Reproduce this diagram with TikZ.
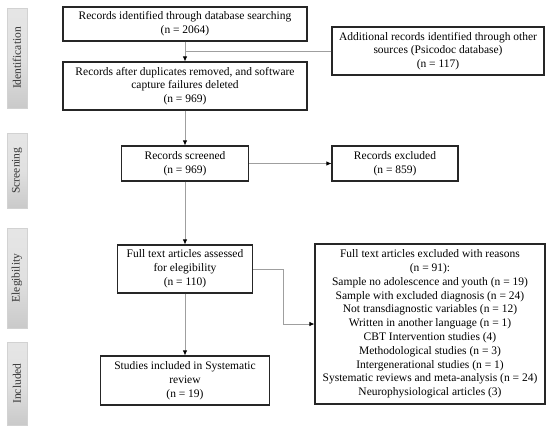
\documentclass[tikz,border=0pt]{standalone}
\usepackage{fontspec}
\setmainfont{Liberation Serif}
\usetikzlibrary{arrows.meta}

\tikzset{
  box/.style={draw=black!85, line width=1.1bp, align=center, inner sep=0pt,
    font=\fontsize{11.5bp}{13.8bp}\selectfont},
  phase/.style={top color=gray!20, bottom color=gray!42, middle color=gray!24,
    draw=gray!35, line width=0.3bp, inner sep=0pt, minimum height=20bp, rotate=90,
    text=black!80, font=\fontsize{11.5bp}{13bp}\selectfont},
  link/.style={draw=gray!75, line width=0.8bp},
  arr/.style={link, -{Latex[length=5bp, width=4.5bp, color=black]}}
}

\begin{document}
\begin{tikzpicture}[x=1bp, y=-1bp]
\useasboundingbox (0,0) rectangle (550,431);

\def\cx{185};

% side labels
\node[phase, minimum width=100bp] (pid) at (17, 58) {Identification};
\node[phase, minimum width=75bp] (psc) at (17, 170.5) {Screening};
\node[phase, minimum width=100bp] (pel) at (17, 278) {Elegibility};
\node[phase, minimum width=83bp] (pin) at (17, 383.5) {Included};

% boxes
\node[box, minimum width=244bp, minimum height=34bp] (ident) at (\cx, 24)
  {Records identified through database searching\\(n = 2064)};
\node[box, minimum width=212bp, minimum height=48bp] (other) at (438, 51)
  {Additional records identified through other\\sources (Psicodoc database)\\(n = 117)};
\node[box, minimum width=244bp, minimum height=48bp] (dupl) at (\cx, 86)
  {Records after duplicates removed, and software\\capture failures deleted\\(n = 969)};
\node[box, minimum width=127bp, minimum height=35bp] (screen) at (\cx, 163.5)
  {Records screened\\(n = 969)};
\node[box, minimum width=126bp, minimum height=35bp] (excl) at (395, 163.5)
  {Records excluded\\(n = 859)};
\node[box, minimum width=135bp, minimum height=48bp] (full) at (\cx, 269)
  {Full text articles assessed\\for elegibility\\(n = 110)};
\node[box, minimum width=169bp, minimum height=49bp] (incl) at (\cx, 380.5)
  {Studies included in Systematic\\review\\(n = 19)};
\node[box, minimum width=230bp, minimum height=160bp] (reasons) at (430, 324)
  {Full text articles excluded with reasons\\(n = 91):\\
   Sample no adolescence and youth (n = 19)\\
   Sample with excluded diagnosis (n = 24)\\
   Not transdiagnostic variables (n = 12)\\
   Written in another language (n = 1)\\
   CBT Intervention studies (4)\\
   Methodological studies (n = 3)\\
   Intergenerational studies (n = 1)\\
   Systematic reviews and meta-analysis (n = 24)\\
   Neurophysiological articles (3)};

% connectors
\coordinate (join) at (ident.south |- other.west);
\coordinate (bend) at (283, 0);

\draw[arr] (ident) -- (dupl);
\draw[link] (other.west) -- (join);
\draw[arr] (dupl) -- (screen);
\draw[arr] (screen) -- (excl);
\draw[arr] (screen) -- (full);
\draw[arr] (full) -- (incl);
\draw[arr] (full.east) -| (bend |- reasons.west) -- (reasons.west);

\end{tikzpicture}
\end{document}
